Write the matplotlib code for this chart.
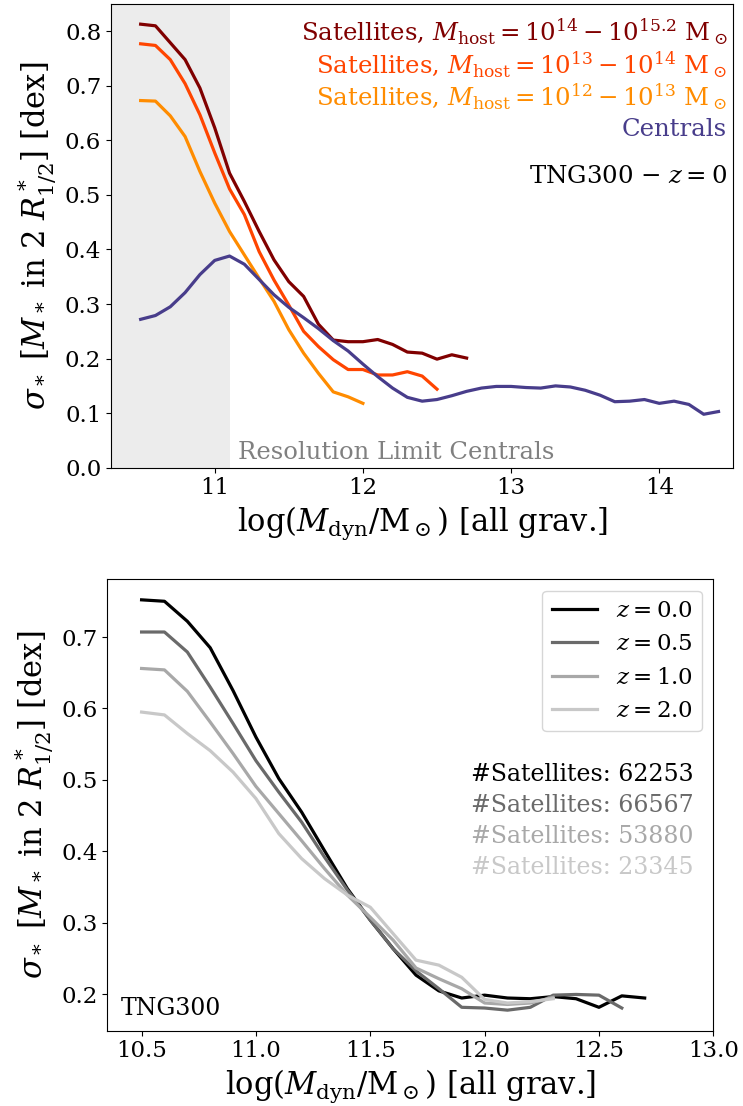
import numpy as np
import matplotlib
matplotlib.use("Agg")
import matplotlib.pyplot as plt

plt.rcParams["font.family"] = ["DejaVu Serif"]
plt.rcParams["mathtext.fontset"] = "dejavuserif"

# ---- top panel: scatter of stellar mass at fixed dynamical mass (z = 0) ----
mass_bins_cen = np.round(np.arange(10.5, 14.45, 0.1), 1)
sigma_centrals = [0.272, 0.279, 0.295, 0.321, 0.354, 0.380, 0.388, 0.373, 0.345, 0.317,
                  0.294, 0.275, 0.255, 0.233, 0.214, 0.190, 0.167, 0.146, 0.129, 0.122,
                  0.125, 0.132, 0.140, 0.146, 0.149, 0.149, 0.147, 0.146, 0.150, 0.148,
                  0.142, 0.133, 0.121, 0.122, 0.125, 0.118, 0.122, 0.116, 0.098, 0.103]

mass_bins_sat14 = np.round(np.arange(10.5, 12.75, 0.1), 1)
sigma_sat14 = [0.813, 0.810, 0.779, 0.748, 0.696, 0.623, 0.540, 0.488, 0.433, 0.381,
               0.341, 0.314, 0.263, 0.234, 0.231, 0.231, 0.235, 0.226, 0.212, 0.210,
               0.199, 0.207, 0.201]

mass_bins_sat13 = np.round(np.arange(10.5, 12.55, 0.1), 1)
sigma_sat13 = [0.777, 0.774, 0.748, 0.704, 0.647, 0.577, 0.511, 0.464, 0.396, 0.344,
               0.298, 0.250, 0.222, 0.198, 0.180, 0.180, 0.170, 0.170, 0.176, 0.168,
               0.144]

mass_bins_sat12 = np.round(np.arange(10.5, 12.05, 0.1), 1)
sigma_sat12 = [0.673, 0.672, 0.645, 0.607, 0.543, 0.485, 0.433, 0.390, 0.347, 0.305,
               0.253, 0.210, 0.173, 0.139, 0.130, 0.118]

# ---- bottom panel: satellites at different redshifts ----
mass_bins_z0 = np.round(np.arange(10.5, 12.75, 0.1), 1)
sigma_z0 = [0.752, 0.750, 0.722, 0.685, 0.625, 0.560, 0.502, 0.455, 0.401, 0.348,
            0.304, 0.264, 0.227, 0.205, 0.195, 0.199, 0.195, 0.194, 0.197, 0.194,
            0.182, 0.198, 0.195]
mass_bins_z05 = np.round(np.arange(10.5, 12.65, 0.1), 1)
sigma_z05 = [0.707, 0.707, 0.679, 0.630, 0.579, 0.527, 0.483, 0.441, 0.392, 0.346,
             0.304, 0.264, 0.233, 0.208, 0.182, 0.181, 0.178, 0.182, 0.199, 0.200,
             0.199, 0.181]
mass_bins_z1 = np.round(np.arange(10.5, 12.35, 0.1), 1)
sigma_z1 = [0.656, 0.654, 0.624, 0.581, 0.537, 0.491, 0.453, 0.415, 0.376, 0.339,
            0.308, 0.276, 0.237, 0.222, 0.208, 0.188, 0.186, 0.188, 0.196]
mass_bins_z2 = np.round(np.arange(10.5, 12.35, 0.1), 1)
sigma_z2 = [0.595, 0.591, 0.565, 0.541, 0.511, 0.474, 0.425, 0.390, 0.362, 0.339,
            0.322, 0.285, 0.248, 0.241, 0.224, 0.193, 0.188, 0.190, 0.194]

redshift_labels = ["0.0", "0.5", "1.0", "2.0"]
n_satellites = [62253, 66567, 53880, 23345]
z_colors = ["black", "#6a6a6a", "#a8a8a8", "#c8c8c8"]

resolution_limit = 11.1
lw = 2.3
fs_tick = 16.5
fs_label = 22
fs_text = 17.6
fs_legend = 16.5
fs_note = 17

fig = plt.figure(figsize=(7.43, 11.06), dpi=100)
ax1 = fig.add_axes([0.1494, 0.5771, 0.8376, 0.4193])
ax2 = fig.add_axes([0.1444, 0.0681, 0.8156, 0.4081])

# top panel
ax1.axvspan(10.3, resolution_limit, color="grey", alpha=0.15, lw=0)
ax1.plot(mass_bins_sat14, sigma_sat14, color="#800000", lw=lw)
ax1.plot(mass_bins_sat13, sigma_sat13, color="#ff4500", lw=lw)
ax1.plot(mass_bins_sat12, sigma_sat12, color="#ff8c00", lw=lw)
ax1.plot(mass_bins_cen, sigma_centrals, color="#483d8b", lw=lw)
ax1.set_xlim(10.3, 14.5)
ax1.set_ylim(0, 0.85)
ax1.set_xticks([11, 12, 13, 14])
ax1.set_yticks(np.round(np.arange(0, 0.85, 0.1), 1))

top_texts = [
    (r"Satellites, $M_{\rm host} = 10^{14} - 10^{15.2}\ \mathrm{M}_\odot$", "#800000"),
    (r"Satellites, $M_{\rm host} = 10^{13} - 10^{14}\ \mathrm{M}_\odot$", "#ff4500"),
    (r"Satellites, $M_{\rm host} = 10^{12} - 10^{13}\ \mathrm{M}_\odot$", "#ff8c00"),
    ("Centrals", "#483d8b"),
]
for i, (txt, col) in enumerate(top_texts):
    ax1.text(0.99, 0.94 - i * 0.0705, txt, color=col, fontsize=fs_text,
             ha="right", va="center", transform=ax1.transAxes)
ax1.text(0.99, 0.629, r"TNG300 $-$ $z = 0$", color="black",
         fontsize=fs_text, ha="right", va="center", transform=ax1.transAxes)
ax1.text(11.155, 0.0285, "Resolution Limit Centrals", color="grey",
         fontsize=17.5, ha="left", va="center")

ax1.set_xlabel(r"$\log(M_{\rm dyn}/\mathrm{M}_\odot)$ [all grav.]", fontsize=fs_label)
ax1.set_ylabel(r"$\sigma_*\ [M_*\ \mathrm{in}\ 2\ R^*_{1/2}]$ [dex]", fontsize=fs_label)

# bottom panel
bins = [mass_bins_z0, mass_bins_z05, mass_bins_z1, mass_bins_z2]
sigmas = [sigma_z0, sigma_z05, sigma_z1, sigma_z2]
for xb, yb, col, zl in zip(bins, sigmas, z_colors, redshift_labels):
    ax2.plot(xb, yb, color=col, lw=lw, label=rf"$z = {zl}$")
ax2.set_xlim(10.35, 13.0)
ax2.set_xticks([10.5, 11.0, 11.5, 12.0, 12.5, 13.0])
ax2.legend(loc="upper right", fontsize=fs_legend, handlelength=2.0)
for i, (n, col) in enumerate(zip(n_satellites, z_colors)):
    ax2.text(0.967, 0.568 - i * 0.0685, f"#Satellites: {n}", color=col,
             fontsize=fs_note, ha="right", va="center", transform=ax2.transAxes)
ax2.text(0.022, 0.05, "TNG300", fontsize=fs_note, ha="left", va="center",
         transform=ax2.transAxes)
ax2.set_xlabel(r"$\log(M_{\rm dyn}/\mathrm{M}_\odot)$ [all grav.]", fontsize=fs_label)
ax2.set_ylabel(r"$\sigma_*\ [M_*\ \mathrm{in}\ 2\ R^*_{1/2}]$ [dex]", fontsize=fs_label)

for ax in (ax1, ax2):
    ax.tick_params(labelsize=fs_tick)

fig.savefig("out.png", dpi=100)
